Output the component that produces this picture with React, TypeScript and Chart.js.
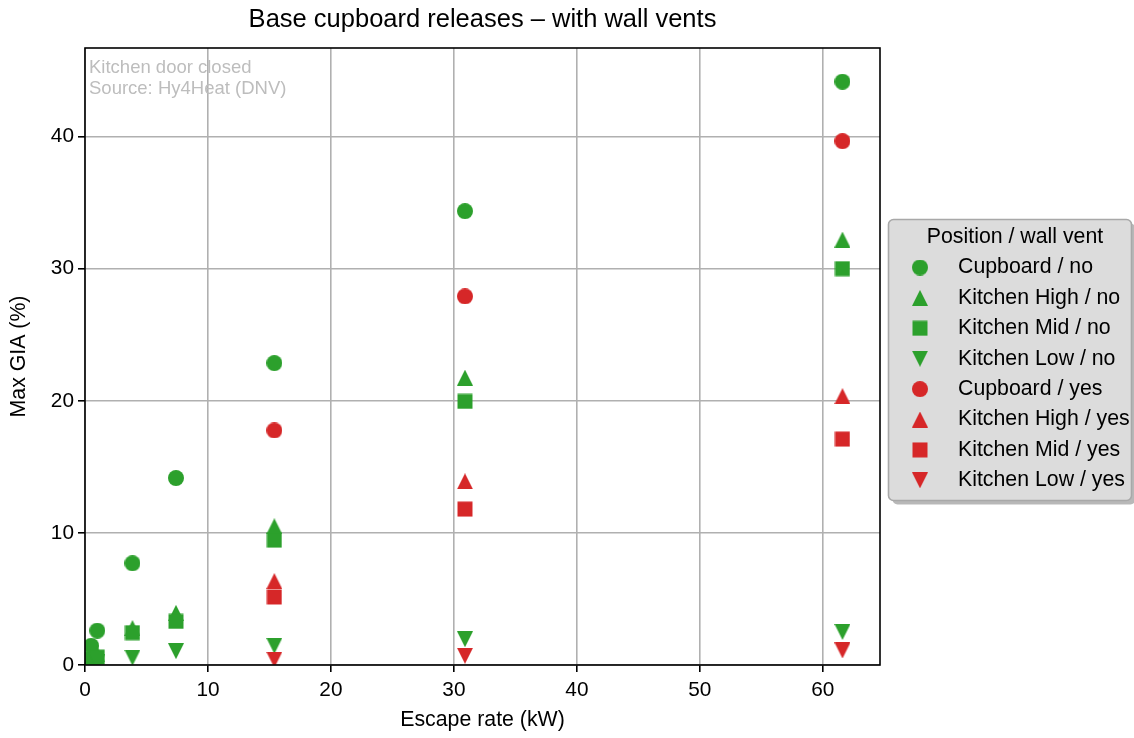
import React, { useEffect, useRef } from "react";
import { Chart, registerables } from "chart.js";

Chart.register(...registerables);

const FONT = "'Liberation Sans', Arial, Helvetica, sans-serif";
const GREEN = "#2ca02c";
const RED = "#d62728";

// Escape rates (kW) for releases without a wall vent
const ratesNoVent = [0.5, 1.0, 3.86, 7.4, 15.4, 30.9, 61.6];
// Escape rates (kW) for releases with a wall vent
const ratesVent = [15.4, 30.9, 61.6];

// Max GIA (%) by sensor position, no wall vent
const cupboardNo = [1.45, 2.6, 7.7, 14.15, 22.85, 34.35, 44.15];
const highNo = [0.6, 0.8, 2.8, 3.95, 10.5, 21.75, 32.2];
const midNo = [0.45, 0.6, 2.45, 3.3, 9.45, 19.95, 30.0];
const lowNo = [0.15, 0.2, 0.55, 1.05, 1.45, 1.95, 2.5];

// Max GIA (%) by sensor position, with wall vent
const cupboardYes = [17.75, 27.9, 39.65];
const highYes = [6.35, 13.9, 20.35];
const midYes = [5.15, 11.8, 17.1];
const lowYes = [0.4, 0.7, 1.1];

const xTickValues = [0, 10, 20, 30, 40, 50, 60];
const yTickValues = [0, 10, 20, 30, 40];

const titleText = "Base cupboard releases \u2013 with wall vents";
const xLabel = "Escape rate (kW)";
const yLabel = "Max GIA (%)";
const noteLines = ["Kitchen door closed", "Source: Hy4Heat (DNV)"];
const legendTitle = "Position / wall vent";

type Shape = "circle" | "up" | "square" | "down";

const series: { label: string; shape: Shape; color: string; xs: number[]; ys: number[] }[] = [
  { label: "Cupboard / no", shape: "circle", color: GREEN, xs: ratesNoVent, ys: cupboardNo },
  { label: "Kitchen High / no", shape: "up", color: GREEN, xs: ratesNoVent, ys: highNo },
  { label: "Kitchen Mid / no", shape: "square", color: GREEN, xs: ratesNoVent, ys: midNo },
  { label: "Kitchen Low / no", shape: "down", color: GREEN, xs: ratesNoVent, ys: lowNo },
  { label: "Cupboard / yes", shape: "circle", color: RED, xs: ratesVent, ys: cupboardYes },
  { label: "Kitchen High / yes", shape: "up", color: RED, xs: ratesVent, ys: highYes },
  { label: "Kitchen Mid / yes", shape: "square", color: RED, xs: ratesVent, ys: midYes },
  { label: "Kitchen Low / yes", shape: "down", color: RED, xs: ratesVent, ys: lowYes },
];

function makeMarker(shape: Shape, color: string): HTMLCanvasElement {
  const s = 16;
  const c = document.createElement("canvas");
  c.width = s;
  c.height = s;
  const ctx = c.getContext("2d")!;
  ctx.fillStyle = color;
  ctx.beginPath();
  if (shape === "circle") {
    ctx.arc(s / 2, s / 2, s / 2, 0, Math.PI * 2);
  } else if (shape === "square") {
    ctx.rect(0.5, 0.5, s - 1, s - 1);
  } else if (shape === "up") {
    ctx.moveTo(s / 2, 0);
    ctx.lineTo(s, s);
    ctx.lineTo(0, s);
    ctx.closePath();
  } else {
    ctx.moveTo(0, 0);
    ctx.lineTo(s, 0);
    ctx.lineTo(s / 2, s);
    ctx.closePath();
  }
  ctx.fill();
  return c;
}

function roundedRect(ctx: CanvasRenderingContext2D, x: number, y: number, w: number, h: number, r: number) {
  ctx.beginPath();
  ctx.moveTo(x + r, y);
  ctx.lineTo(x + w - r, y);
  ctx.arcTo(x + w, y, x + w, y + r, r);
  ctx.lineTo(x + w, y + h - r);
  ctx.arcTo(x + w, y + h, x + w - r, y + h, r);
  ctx.lineTo(x + r, y + h);
  ctx.arcTo(x, y + h, x, y + h - r, r);
  ctx.lineTo(x, y + r);
  ctx.arcTo(x, y, x + r, y, r);
  ctx.closePath();
}

export default function App() {
  const ref = useRef<HTMLCanvasElement>(null);

  useEffect(() => {
    const canvas = ref.current;
    if (!canvas) return;
    const markers = series.map((s) => makeMarker(s.shape, s.color));

    const decorations = {
      id: "decorations",
      afterDraw(chart: Chart) {
        const { ctx, chartArea: a } = chart;
        ctx.save();

        // axes frame
        ctx.strokeStyle = "#000";
        ctx.lineWidth = 1.6;
        ctx.strokeRect(a.left, a.top, a.right - a.left, a.bottom - a.top);

        const cx = (a.left + a.right) / 2;
        const cy = (a.top + a.bottom) / 2;

        // title
        ctx.fillStyle = "#000";
        ctx.textAlign = "center";
        ctx.textBaseline = "middle";
        ctx.font = `25.5px ${FONT}`;
        ctx.fillText(titleText, cx, 19.5);

        // axis titles
        ctx.font = `21.3px ${FONT}`;
        ctx.fillText(xLabel, cx, 720);
        ctx.save();
        ctx.translate(19.5, cy);
        ctx.rotate(-Math.PI / 2);
        ctx.fillText(yLabel, 0, 0);
        ctx.restore();

        // note in the top-left corner
        ctx.fillStyle = "#bdbdbd";
        ctx.textAlign = "left";
        ctx.font = `18.5px ${FONT}`;
        noteLines.forEach((t, i) => ctx.fillText(t, a.left + 4, 68 + i * 20.5));

        // legend
        const bx = 888.5, by = 219.5, bw = 243, bh = 281;
        ctx.fillStyle = "rgba(0,0,0,0.28)";
        roundedRect(ctx, bx + 4, by + 4, bw, bh, 5);
        ctx.fill();
        ctx.fillStyle = "#dcdcdc";
        roundedRect(ctx, bx, by, bw, bh, 5);
        ctx.fill();
        ctx.strokeStyle = "#a8a8a8";
        ctx.lineWidth = 1.6;
        ctx.stroke();

        ctx.fillStyle = "#000";
        ctx.font = `21.3px ${FONT}`;
        ctx.textAlign = "center";
        ctx.fillText(legendTitle, 1015, 237);
        ctx.textAlign = "left";
        chart.data.datasets.forEach((ds, i) => {
          const y = 267.5 + i * 30.4;
          const m = markers[i];
          ctx.drawImage(m, 920 - m.width / 2, y - m.height / 2);
          ctx.fillStyle = "#000";
          ctx.fillText(String(ds.label), 958, y);
        });

        ctx.restore();
      },
    };

    const gridOpts = {
      color: "#b0b0b0",
      lineWidth: 1.6,
      tickColor: "#000",
      tickLength: 7,
      tickWidth: 1.6,
      drawTicks: true,
    };
    const tickFont = { size: 20.8, family: FONT };

    const chart = new Chart(canvas, {
      type: "scatter",
      data: {
        datasets: series.map((s, i) => ({
          label: s.label,
          data: s.xs.map((x, j) => ({ x, y: s.ys[j] })),
          pointStyle: markers[i],
          pointRadius: 8,
          pointHoverRadius: 8,
          backgroundColor: s.color,
          borderColor: s.color,
          order: series.length - i,
          clip: 0,
        })),
      },
      options: {
        responsive: false,
        animation: false,
        events: [],
        layout: { padding: { left: 0, right: 254, top: 48, bottom: 0 } },
        plugins: {
          legend: { display: false },
          title: { display: false },
          tooltip: { enabled: false },
        },
        scales: {
          x: {
            type: "linear",
            min: 0,
            max: 64.65,
            afterBuildTicks: (s: any) => {
              s.ticks = xTickValues.map((v) => ({ value: v }));
            },
            afterFit: (s: any) => {
              s.height = 73;
            },
            grid: gridOpts,
            border: { display: false },
            ticks: { color: "#000", font: tickFont, padding: 6, maxRotation: 0, autoSkip: false },
          },
          y: {
            type: "linear",
            min: 0,
            max: 46.7,
            afterBuildTicks: (s: any) => {
              s.ticks = yTickValues.map((v) => ({ value: v }));
            },
            afterFit: (s: any) => {
              s.width = 85;
            },
            grid: gridOpts,
            border: { display: false },
            ticks: { color: "#000", font: tickFont, padding: 4, autoSkip: false },
          },
        },
      },
      plugins: [decorations],
    });

    return () => chart.destroy();
  }, []);

  return (
    <div style={{ position: "absolute", left: 0, top: 0, width: 1134, height: 738, background: "#fff" }}>
      <canvas ref={ref} width={1134} height={738} />
    </div>
  );
}
